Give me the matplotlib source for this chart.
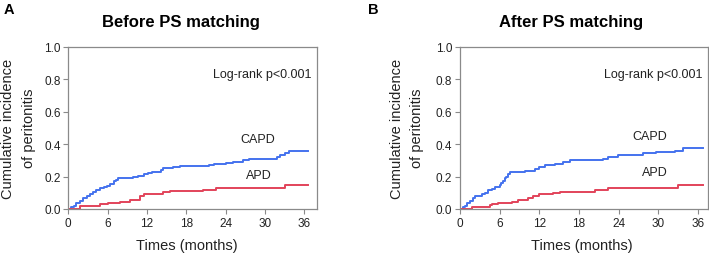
import matplotlib
matplotlib.use("Agg")
import matplotlib.pyplot as plt

plt.rcParams['font.family'] = ['Liberation Sans', 'DejaVu Sans']

# Panel A (before PS matching) step curves: times (months), cumulative incidence
a_capd_t = [0, 0.4, 0.8, 1.2, 1.8, 2.3, 2.8, 3.3, 3.8, 4.3, 4.9, 5.5, 5.9, 6.4, 6.9, 7.3, 7.6, 9.9, 10.6,
            11.5, 12.1, 12.7, 14.2, 14.5, 16.0, 17.0, 21.4, 22.3, 24.0, 25.2, 26.7, 27.6, 31.8, 32.3, 33.0, 33.6, 36.6]
a_capd_v = [0, 0.01, 0.02, 0.035, 0.05, 0.065, 0.08, 0.095, 0.105, 0.12, 0.13, 0.135, 0.14, 0.155, 0.17, 0.18, 0.19, 0.20, 0.205,
            0.215, 0.22, 0.23, 0.24, 0.25, 0.26, 0.265, 0.27, 0.28, 0.285, 0.29, 0.30, 0.31, 0.32, 0.33, 0.345, 0.355, 0.355]
a_apd_t = [0, 1.8, 4.8, 6.0, 7.9, 9.4, 10.9, 11.5, 12.7, 14.5, 15.5, 20.6, 22.5, 33.0, 36.6]
a_apd_v = [0, 0.02, 0.03, 0.035, 0.045, 0.055, 0.08, 0.09, 0.095, 0.105, 0.11, 0.12, 0.13, 0.145, 0.145]

# Panel B (after PS matching)
b_capd_t = [0, 0.4, 0.75, 1.1, 1.5, 1.9, 2.3, 3.3, 3.8, 4.3, 4.8, 5.3, 6.0, 6.2, 6.5, 6.8, 7.0, 7.3, 7.6, 9.8, 11.3,
            12.0, 12.8, 14.4, 15.6, 16.6, 21.7, 22.4, 23.9, 27.7, 29.7, 32.5, 33.7, 36.8]
b_capd_v = [0, 0.01, 0.02, 0.035, 0.05, 0.065, 0.08, 0.09, 0.10, 0.12, 0.125, 0.135, 0.145, 0.16, 0.175, 0.19, 0.20, 0.215, 0.225, 0.235, 0.245,
            0.26, 0.27, 0.28, 0.29, 0.30, 0.31, 0.32, 0.33, 0.345, 0.35, 0.36, 0.375, 0.375]
b_apd_t = [0, 1.8, 4.5, 4.8, 5.8, 7.8, 8.8, 10.3, 11.0, 12.0, 14.1, 15.1, 20.4, 22.4, 33.0, 36.8]
b_apd_v = [0, 0.015, 0.025, 0.03, 0.035, 0.045, 0.055, 0.065, 0.08, 0.09, 0.10, 0.105, 0.115, 0.13, 0.145, 0.145]

x_ticks = [0, 6, 12, 18, 24, 30, 36]
y_ticks = [0.0, 0.2, 0.4, 0.6, 0.8, 1.0]
titles = ["Before PS matching", "After PS matching"]
panel_labels = ["A", "B"]
group_labels = ["CAPD", "APD"]
pval_text = "Log-rank p<0.001"
xlabel = "Times (months)"
ylabel = "Cumulative incidence\nof peritonitis"

BLUE = "#4472EE"
RED = "#E2435A"
GRAY = "#8a8a8a"

W, H = 709, 255
fig = plt.figure(figsize=(W / 100, H / 100), dpi=100)

panels = [
    dict(rect=[68.3 / W, 1 - 210 / H, (316.7 - 68.3) / W, (210 - 47.7) / H], xmax=37.9,
         capd=(a_capd_t, a_capd_v), apd=(a_apd_t, a_apd_v),
         capd_lab=(31.5, 0.43), apd_lab=(31.0, 0.21),
         title_x=181, panel_x=4, ylab_x=18.5, xlab_x=187),
    dict(rect=[460 / W, 1 - 210 / H, (707.7 - 460) / W, (210 - 47.7) / H], xmax=37.5,
         capd=(b_capd_t, b_capd_v), apd=(b_apd_t, b_apd_v),
         capd_lab=(31.3, 0.45), apd_lab=(31.5, 0.23),
         title_x=571, panel_x=368, ylab_x=407, xlab_x=582),
]

for i, p in enumerate(panels):
    ax = fig.add_axes(p["rect"])
    ax.step(p["capd"][0], p["capd"][1], where="post", color=BLUE, lw=1.4)
    ax.step(p["apd"][0], p["apd"][1], where="post", color=RED, lw=1.4)
    ax.set_xlim(0, p["xmax"])
    ax.set_ylim(0, 1.0)
    ax.set_xticks(x_ticks)
    ax.set_yticks(y_ticks)
    ax.set_yticklabels([f"{v:.1f}" for v in y_ticks])
    for s in ax.spines.values():
        s.set_color(GRAY)
        s.set_linewidth(0.9)
    ax.tick_params(direction="out", length=3.6, width=0.8, color=GRAY, labelsize=8.5,
                   labelcolor="#222222", pad=2)
    ax.text(0.98, 0.83, pval_text, transform=ax.transAxes, ha="right", va="center",
            fontsize=9, color="#222222")
    ax.text(*p["capd_lab"], group_labels[0], ha="right", va="center", fontsize=9, color="#222222")
    ax.text(*p["apd_lab"], group_labels[1], ha="right", va="center", fontsize=9, color="#222222")

    fig.text(p["title_x"] / W, 1 - 22 / H, titles[i], ha="center", va="center",
             fontsize=12, fontweight="bold", color="#000000")
    fig.text(p["panel_x"] / W, 1 - 10 / H, panel_labels[i], ha="left", va="center",
             fontsize=10.5, fontweight="bold", color="#000000")
    fig.text(p["ylab_x"] / W, 1 - 128.5 / H, ylabel, ha="center", va="center", rotation=90,
             multialignment="center", linespacing=1.55, fontsize=10.5, color="#222222")
    fig.text(p["xlab_x"] / W, 1 - 246 / H, xlabel, ha="center", va="center",
             fontsize=10.5, color="#222222")

fig.savefig("out.png", dpi=100)
